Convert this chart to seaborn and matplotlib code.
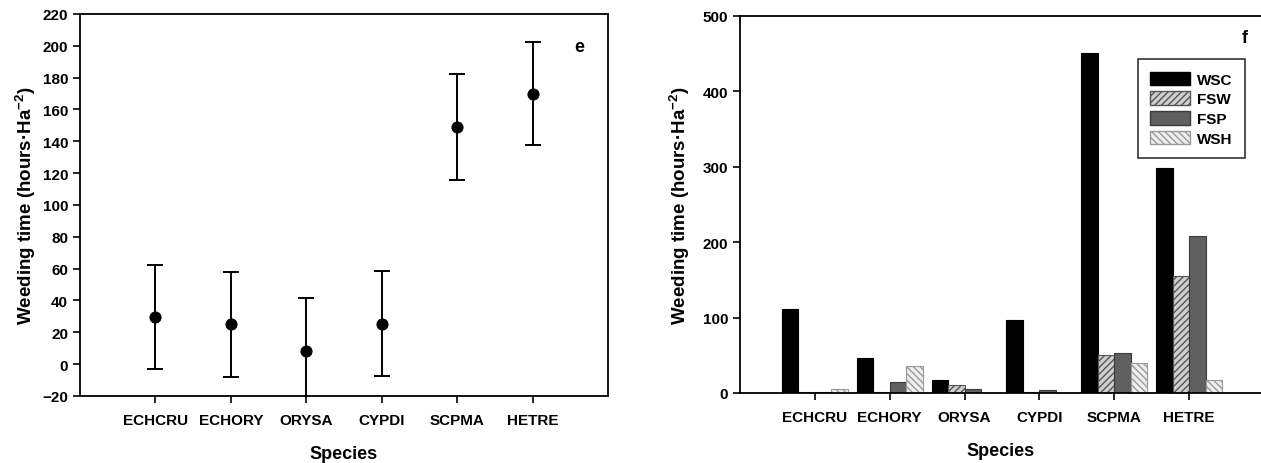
import numpy as np
import pandas as pd
import matplotlib
matplotlib.use("Agg")
import matplotlib.pyplot as plt
import seaborn as sns
from matplotlib.patches import Patch

# ---------------- data ----------------
species = ["ECHCRU", "ECHORY", "ORYSA", "CYPDI", "SCPMA", "HETRE"]
mean_time = [29.5, 25.0, 8.5, 25.5, 149.0, 170.0]
err_time = [32.5, 33.0, 33.0, 33.0, 33.0, 32.5]

methods = ["WSC", "FSW", "FSP", "WSH"]
wsc = [111, 46, 17, 96.5, 451.5, 298]
fsw = [1, 1, 10.5, 1, 51, 155.5]
fsp = [1, 14.5, 5.7, 4, 53, 208]
wsh = [5, 36, 0, 0, 40, 17]

left_ticks = list(range(-20, 221, 20))
right_ticks = list(range(0, 501, 100))

# ---------------- style ----------------
sns.set_theme(style="white")
plt.rcParams["font.family"] = ["Liberation Sans", "DejaVu Sans"]
plt.rcParams["font.weight"] = "bold"
plt.rcParams["text.color"] = "black"
plt.rcParams["axes.labelcolor"] = "black"
plt.rcParams["xtick.color"] = "black"
plt.rcParams["ytick.color"] = "black"
plt.rcParams["mathtext.fontset"] = "custom"
plt.rcParams["mathtext.rm"] = "Liberation Sans:bold"
plt.rcParams["mathtext.bf"] = "Liberation Sans:bold"
plt.rcParams["mathtext.it"] = "Liberation Sans:bold"

fig = plt.figure(figsize=(12.61, 4.64), dpi=100)
ax1 = fig.add_axes([0.0634, 0.1444, 0.4187, 0.8233])
ax2 = fig.add_axes([0.5868, 0.1509, 0.4132, 0.8125])

ylab = "Weeding time (hours\u00b7Ha$^{-2}$)"

# ---------------- left panel ----------------
df1 = pd.DataFrame({"species": species, "mean": mean_time, "err": err_time})
xpos = np.arange(len(species))
ax1.errorbar(xpos, df1["mean"], yerr=df1["err"], fmt="none", ecolor="black",
             elinewidth=1.4, capsize=5.5, capthick=1.4, zorder=2)
sns.scatterplot(data=df1, x="species", y="mean", ax=ax1, color="black",
                s=65, edgecolor="black", zorder=3, legend=False)
ax1.set_xlim(-1, 6)
ax1.set_ylim(-20, 220)
ax1.set_yticks(left_ticks)
ax1.set_xlabel("Species", fontsize=13, fontweight="bold", labelpad=13)
ax1.set_ylabel(ylab, fontsize=13.5, fontweight="bold", labelpad=3)
ax1.text(0.945, 0.916, "e", transform=ax1.transAxes, fontsize=13,
         fontweight="bold", ha="center", va="center")
for s in ax1.spines.values():
    s.set_color("black")
    s.set_linewidth(1.3)

# ---------------- right panel ----------------
df2 = pd.DataFrame({
    "species": np.repeat(species, len(methods)),
    "method": methods * len(species),
    "time": np.ravel(np.column_stack([wsc, fsw, fsp, wsh])),
})
face = {"WSC": "#000000", "FSW": "#cfcfcf", "FSP": "#606060", "WSH": "#eeeeee"}
edge = {"WSC": "#000000", "FSW": "#555555", "FSP": "#3a3a3a", "WSH": "#9a9a9a"}
hatch = {"WSC": "", "FSW": "/////", "FSP": "", "WSH": "\\\\\\\\\\"}

sns.barplot(data=df2, x="species", y="time", hue="method", order=species,
            hue_order=methods, palette=face, width=0.88, gap=0, ax=ax2,
            saturation=1, legend=False)
for cont, m in zip(ax2.containers, methods):
    for b in cont:
        b.set_edgecolor(edge[m])
        b.set_linewidth(0.8)
        b.set_hatch(hatch[m])

ax2.set_xlim(-1, 5.96)
ax2.set_ylim(0, 500)
ax2.set_yticks(right_ticks)
ax2.set_xlabel("Species", fontsize=13, fontweight="bold", labelpad=13)
ax2.set_ylabel(ylab, fontsize=13.5, fontweight="bold", labelpad=8)
ax2.text(0.969, 0.944, "f", transform=ax2.transAxes, fontsize=13,
         fontweight="bold", ha="center", va="center")
ax2.spines["right"].set_visible(False)
for k in ["left", "top", "bottom"]:
    ax2.spines[k].set_color("black")
    ax2.spines[k].set_linewidth(1.3)

handles = [Patch(facecolor=face[m], edgecolor=edge[m], hatch=hatch[m], label=m)
           for m in methods]
leg = ax2.legend(handles=handles, loc="upper left", bbox_to_anchor=(0.749, 0.905),
                 frameon=True, fancybox=False, edgecolor="black", fontsize=11,
                 handlelength=2.6, handleheight=1.0, borderpad=0.8,
                 labelspacing=0.3, handletextpad=0.5)
leg.get_frame().set_linewidth(1.2)
for t in leg.get_texts():
    t.set_fontweight("bold")

for ax in (ax1, ax2):
    ax.tick_params(axis="both", which="major", direction="out", length=5,
                   width=1.2, color="black", labelsize=11, left=True, bottom=True,
                   labelcolor="black")
    ax.tick_params(axis="x", pad=7)
    for lab in ax.get_xticklabels() + ax.get_yticklabels():
        lab.set_fontweight("bold")
    ax.grid(False)

fig.savefig("out.png", dpi=100, facecolor="white")
